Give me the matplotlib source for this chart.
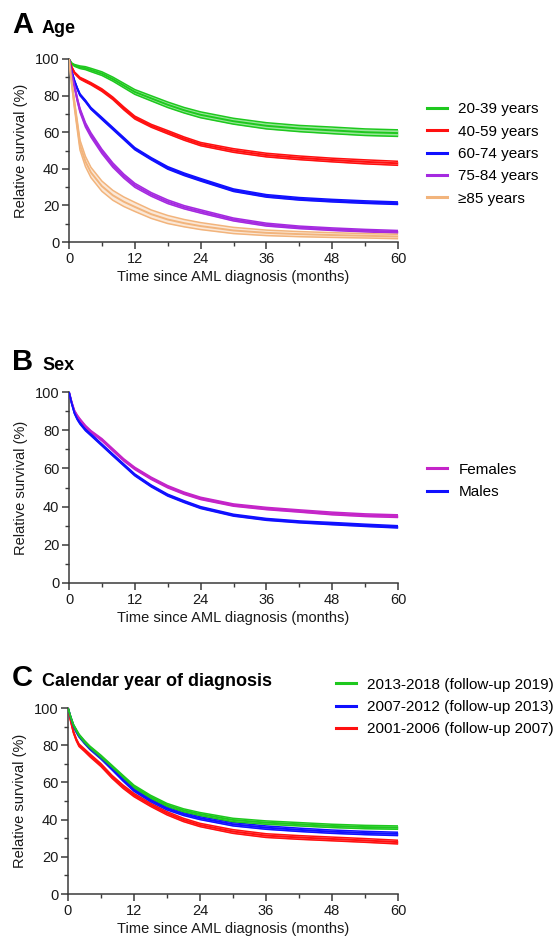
"""Relative survival after AML diagnosis by age, sex and calendar period."""

import matplotlib

matplotlib.use("Agg")
import matplotlib.pyplot as plt
import numpy as np

plt.rcParams["font.family"] = ["Liberation Sans", "DejaVu Sans"]

MONTHS = [0, 0.5, 1, 1.5, 2, 3, 4, 6, 8, 10, 12, 15, 18, 21, 24, 30, 36, 42, 48, 54, 60]

# Panel A: age groups (estimate, CI half-width)
AGE_LABELS = ["20-39 years", "40-59 years", "60-74 years", "75-84 years", "\u226585 years"]
AGE_20_39 = [100, 97.5, 96.5, 96, 95.5, 95, 94, 92, 89, 85.5, 82, 78.5, 75, 72, 69.5, 66, 63.5, 62, 61, 60, 59.5]
AGE_20_39_HW = [0, 0.3, 0.5, 0.6, 0.7, 0.8, 0.9, 1.0, 1.1, 1.2, 1.3, 1.4, 1.5, 1.5, 1.6, 1.6, 1.7, 1.7, 1.8, 1.8, 1.8]
AGE_40_59 = [100, 95.5, 92.5, 91, 89.5, 88, 86.5, 83, 78.5, 73, 68, 63.5, 60, 56.5, 53.5, 50, 47.5, 46, 44.8, 43.8, 43]
AGE_40_59_HW = [0, 0.3, 0.4, 0.5, 0.5, 0.6, 0.6, 0.7, 0.7, 0.8, 0.8, 0.8, 0.9, 0.9, 0.9, 1.0, 1.0, 1.0, 1.0, 1.1, 1.1]
AGE_60_74 = [100, 93, 88, 84, 80.5, 77, 73, 67.5, 62, 56.5, 51, 45.5, 40.5, 37, 34, 28.3, 25.2, 23.6, 22.6, 21.8, 21.2]
AGE_60_74_HW = [0, 0.3, 0.4, 0.4, 0.5, 0.5, 0.5, 0.6, 0.6, 0.6, 0.6, 0.6, 0.7, 0.7, 0.7, 0.7, 0.7, 0.7, 0.7, 0.7, 0.7]
AGE_75_84 = [100, 92, 85, 78, 72, 64, 58.5, 49.5, 42, 36, 31, 26, 22, 19, 16.7, 12.3, 9.5, 8, 7, 6.2, 5.6]
AGE_75_84_HW = [0, 0.5, 0.8, 1.0, 1.1, 1.2, 1.2, 1.2, 1.2, 1.1, 1.1, 1.0, 1.0, 0.9, 0.9, 0.8, 0.8, 0.7, 0.7, 0.7, 0.7]
AGE_85 = [100, 87, 75, 64, 53, 44, 38, 30.5, 25.5, 22, 19.2, 15.2, 12.3, 10.3, 8.7, 6.3, 5.0, 4.3, 3.8, 3.4, 3.0]
AGE_85_HW = [0, 1.5, 2.2, 2.5, 2.7, 2.8, 2.8, 2.8, 2.7, 2.6, 2.5, 2.3, 2.2, 2.0, 1.9, 1.7, 1.5, 1.4, 1.3, 1.2, 1.2]

# Panel B: sex
SEX_LABELS = ["Females", "Males"]
FEMALES = [100, 94.5, 90, 87.5, 85.5, 82, 79.3, 75, 69.7, 64.4, 60, 54.8, 50.4, 47, 44.3, 40.8, 39, 37.7, 36.4, 35.5, 35]
FEMALES_HW = [0, 0.3, 0.4, 0.5, 0.5, 0.5, 0.5, 0.6, 0.6, 0.6, 0.6, 0.6, 0.6, 0.6, 0.6, 0.6, 0.6, 0.6, 0.7, 0.7, 0.7]
MALES = [100, 94, 89, 86, 83.7, 80.2, 77.6, 72.3, 67, 61.8, 56.6, 50.8, 46, 42.6, 39.5, 35.5, 33.3, 32, 31.1, 30.2, 29.4]
MALES_HW = [0, 0.3, 0.4, 0.5, 0.5, 0.5, 0.5, 0.5, 0.5, 0.5, 0.5, 0.5, 0.5, 0.5, 0.5, 0.5, 0.5, 0.5, 0.6, 0.6, 0.6]

# Panel C: calendar period
PERIOD_LABELS = ["2013-2018 (follow-up 2019)", "2007-2012 (follow-up 2013)", "2001-2006 (follow-up 2007)"]
P_2013 = [100, 95, 90.7, 88, 85.4, 81.8, 78.8, 73.8, 68.4, 63, 57.7, 52.3, 47.9, 45, 43, 39.8, 38.4, 37.5, 36.6, 36, 35.7]
P_2013_HW = [0, 0.3, 0.5, 0.6, 0.6, 0.7, 0.7, 0.8, 0.8, 0.8, 0.8, 0.8, 0.8, 0.8, 0.8, 0.9, 0.9, 0.9, 0.9, 0.9, 0.9]
P_2007 = [100, 94.8, 90.3, 87.5, 85, 81.5, 78.3, 73.3, 67.5, 61.5, 56, 50.5, 46, 43, 40.8, 37.5, 35.7, 34.5, 33.5, 32.8, 32.3]
P_2007_HW = [0, 0.3, 0.5, 0.6, 0.6, 0.7, 0.7, 0.8, 0.8, 0.8, 0.8, 0.8, 0.8, 0.8, 0.8, 0.9, 0.9, 0.9, 0.9, 0.9, 0.9]
P_2001 = [100, 93, 87, 83, 80, 77.3, 74.5, 69.3, 63, 57.7, 53.2, 48, 43.4, 39.8, 37.1, 33.6, 31.4, 30.4, 29.6, 28.8, 27.9]
P_2001_HW = [0, 0.3, 0.5, 0.6, 0.7, 0.7, 0.8, 0.8, 0.8, 0.9, 0.9, 0.9, 0.9, 0.9, 0.9, 1.0, 1.0, 1.0, 1.0, 1.0, 1.0]

GREEN = "#1ec81e"
RED = "#ff1010"
BLUE = "#1010ff"
PURPLE = "#a52ae0"
ORANGE = "#f2b47c"
MAGENTA = "#c424c8"
AXIS_COLOR = "#3a3a3a"

FIG_W, FIG_H = 559, 943


def fig_box(left, top, right, bottom):
    return [left / FIG_W, 1 - bottom / FIG_H, (right - left) / FIG_W, (bottom - top) / FIG_H]


def draw_band(axis, est, hw, color, fill_alpha=0.45, label=None):
    x = np.asarray(MONTHS, dtype=float)
    est = np.asarray(est, dtype=float)
    hw = np.asarray(hw, dtype=float)
    axis.fill_between(x, est - hw, est + hw, color=color, alpha=fill_alpha, lw=0, zorder=2)
    for bound in (est - hw, est + hw):
        axis.plot(x, bound, color=color, lw=1.1, zorder=3, solid_joinstyle="round")
    axis.plot(x, est, color=color, lw=1.4, zorder=4, solid_joinstyle="round")
    if label:
        axis.plot([], [], color=color, lw=2.2, label=label)


def style_axis(axis):
    axis.set_xlim(0, 60)
    axis.set_ylim(0, 100)
    axis.set_xticks(np.arange(0, 61, 12))
    axis.set_xticks(np.arange(0, 61, 6), minor=True)
    axis.set_yticks(np.arange(0, 101, 20))
    axis.set_yticks(np.arange(0, 101, 10), minor=True)
    for side in ("top", "right"):
        axis.spines[side].set_visible(False)
    for side in ("left", "bottom"):
        axis.spines[side].set_color(AXIS_COLOR)
        axis.spines[side].set_linewidth(1.1)
    axis.tick_params(which="major", direction="out", length=5, width=1.1, color=AXIS_COLOR,
                     labelsize=10.5, labelcolor="#1a1a1a", pad=2)
    axis.tick_params(which="minor", direction="out", length=3, width=1.0, color=AXIS_COLOR)
    axis.set_xlabel("Time since AML diagnosis (months)", fontsize=10.5, color="#1a1a1a", labelpad=3)
    axis.set_ylabel("Relative survival (%)", fontsize=10.5, color="#1a1a1a", labelpad=5)


def add_legend(axis, left_px, center_px, handles=None, labels=None):
    kwargs = dict(loc="center left", bbox_to_anchor=(left_px / FIG_W, 1 - center_px / FIG_H),
                  bbox_transform=axis.figure.transFigure, frameon=False, fontsize=11,
                  handlelength=1.3, handletextpad=0.75, labelspacing=0.55, borderpad=0, borderaxespad=0)
    if handles is None:
        axis.legend(**kwargs)
    else:
        axis.legend(handles, labels, **kwargs)


def add_title(fig, letter, title, baseline_px):
    y = 1 - baseline_px / FIG_H
    fig.text(12 / FIG_W, y, letter, fontsize=21, fontweight="bold", va="baseline", ha="left")
    fig.text(42 / FIG_W, y, title, fontsize=13, fontweight="bold", va="baseline", ha="left")


def main():
    fig = plt.figure(figsize=(FIG_W / 100, FIG_H / 100), dpi=100, facecolor="white")

    ax_a = fig.add_axes(fig_box(69, 59, 398, 242))
    draw_band(ax_a, AGE_20_39, AGE_20_39_HW, GREEN, label=AGE_LABELS[0])
    draw_band(ax_a, AGE_40_59, AGE_40_59_HW, RED, label=AGE_LABELS[1])
    draw_band(ax_a, AGE_60_74, AGE_60_74_HW, BLUE, label=AGE_LABELS[2])
    draw_band(ax_a, AGE_75_84, AGE_75_84_HW, PURPLE, label=AGE_LABELS[3])
    draw_band(ax_a, AGE_85, AGE_85_HW, ORANGE, fill_alpha=0.3, label=AGE_LABELS[4])
    style_axis(ax_a)
    add_legend(ax_a, 427, 154)
    add_title(fig, "A", "Age", 33)

    ax_b = fig.add_axes(fig_box(69, 392, 398, 583))
    draw_band(ax_b, FEMALES, FEMALES_HW, MAGENTA, label=SEX_LABELS[0])
    draw_band(ax_b, MALES, MALES_HW, BLUE, label=SEX_LABELS[1])
    style_axis(ax_b)
    add_legend(ax_b, 427, 481)
    add_title(fig, "B", "Sex", 370)

    ax_c = fig.add_axes(fig_box(68, 708, 398, 894))
    draw_band(ax_c, P_2001, P_2001_HW, RED)
    draw_band(ax_c, P_2007, P_2007_HW, BLUE)
    draw_band(ax_c, P_2013, P_2013_HW, GREEN)
    handles = [ax_c.plot([], [], color=c, lw=2.2)[0] for c in (GREEN, BLUE, RED)]
    style_axis(ax_c)
    add_legend(ax_c, 336, 707, handles, PERIOD_LABELS)
    add_title(fig, "C", "Calendar year of diagnosis", 686)

    fig.savefig("out.png", dpi=100, facecolor="white")
    plt.close(fig)


if __name__ == "__main__":
    main()
